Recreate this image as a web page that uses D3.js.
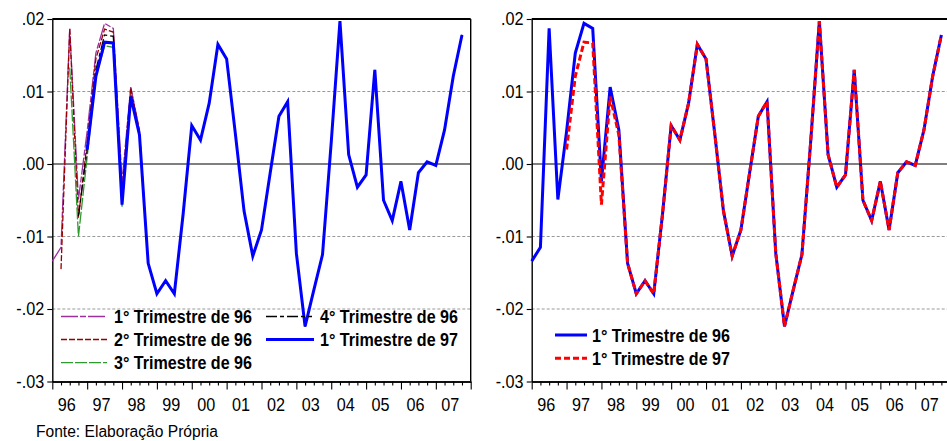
<!DOCTYPE html>
<html>
<head>
<meta charset="utf-8">
<script src="https://cdn.jsdelivr.net/npm/d3@7"></script>
<style>
  body { margin: 0; background: #fff; }
  svg { display: block; }
  text { font-family: "Liberation Sans", Arial, sans-serif; }
</style>
</head>
<body>
<div id="chart"></div>
<script>

/* DATA (quarterly, 1996Q1 .. 2007Q4) */
const years = ["96", "97", "98", "99", "00", "01", "02", "03", "04", "05", "06", "07"];
const yTicks = [0.02, 0.01, 0.00, -0.01, -0.02, -0.03];
const yLabels = [".02", ".01", ".00", "-.01", "-.02", "-.03"];

// first 11 quarters of each estimate (null = not yet estimated)
const tri1_96 = [-0.0134, -0.0115, 0.0187, -0.0049, 0.0045, 0.0153, 0.0194, 0.0187, -0.0024, 0.0106, 0.0047];
const tri2_96 = [null, -0.0145, 0.0186, -0.0074, 0.0030, 0.0145, 0.0186, 0.0182, -0.0040, 0.0105, 0.0045];
const tri3_96 = [null, null, 0.0133, -0.0100, 0.0010, 0.0120, 0.0163, 0.0161, -0.0060, 0.0095, 0.0040];
const tri4_96 = [null, null, null, -0.0072, 0.0020, 0.0130, 0.0178, 0.0176, -0.0050, 0.0095, 0.0042];
const tri1_97 = [null, null, null, null, 0.0020, 0.0121, 0.0168, 0.0167, -0.0056, 0.0093, 0.0040];

// from 1998Q4 on all the estimates lie on top of each other
const comum = [-0.0137, -0.0179, -0.0161, -0.0179, -0.0070, 0.0053, 0.0033, 0.0084, 0.0165, 0.0145,
               0.0042, -0.0065, -0.0127, -0.0091, -0.0012, 0.0066, 0.0086, -0.0123, -0.0224, -0.0174,
               -0.0125, 0.0030, 0.0197, 0.0013, -0.0032, -0.0015, 0.0130, -0.0050, -0.0078, -0.0024,
               -0.0091, -0.0012, 0.0003, -0.0002, 0.0047, 0.0121, 0.0178];

/* SVG */
const width = 947, height = 441;
const svg = d3.select("#chart").append("svg")
    .attr("width", width)
    .attr("height", height);

const plotTop = 19, plotBottom = 381.5, plotW = 418.4;

const yScale = d3.scaleLinear()
    .domain([-0.03, 0.02])
    .range([plotBottom, plotTop]);

const line = d3.line()
    .defined(d => d != null)
    .x(d => d.x)
    .y(d => yScale(d.v));

function drawPanel(x0, series, legend) {

    const xScale = d3.scaleLinear()
        .domain([0, 48])
        .range([x0, x0 + plotW]);

    const g = svg.append("g");

    /* GRID */
    g.selectAll(".grid")
        .data([0.01, -0.01, -0.02])
        .enter()
        .append("line")
            .attr("x1", x0).attr("x2", x0 + plotW)
            .attr("y1", d => yScale(d)).attr("y2", d => yScale(d))
            .attr("stroke", "#999")
            .attr("stroke-width", 1)
            .attr("stroke-dasharray", "3,2");

    g.append("line")
        .attr("x1", x0).attr("x2", x0 + plotW)
        .attr("y1", yScale(0)).attr("y2", yScale(0))
        .attr("stroke", "#000")
        .attr("stroke-width", 1.2);

    /* FRAME */
    g.append("line")
        .attr("x1", x0).attr("x2", x0 + plotW)
        .attr("y1", plotTop).attr("y2", plotTop)
        .attr("stroke", "#000").attr("stroke-width", 2.2);

    g.append("line")
        .attr("x1", x0 + plotW).attr("x2", x0 + plotW)
        .attr("y1", plotTop).attr("y2", plotBottom)
        .attr("stroke", "#000").attr("stroke-width", 1.4);

    /* AXES */
    const yAxis = g.append("g")
        .attr("transform", `translate(${x0},0)`)
        .call(d3.axisLeft(yScale)
            .tickValues(yTicks)
            .tickFormat((d, i) => yLabels[i])
            .tickSize(5)
            .tickSizeOuter(0)
            .tickPadding(4));

    const xMajor = g.append("g")
        .attr("transform", `translate(0,${plotBottom})`)
        .call(d3.axisBottom(xScale)
            .tickValues(d3.range(0, 49, 4))
            .tickSize(8)
            .tickSizeOuter(0)
            .tickFormat(""));

    const xMinor = g.append("g")
        .attr("transform", `translate(0,${plotBottom})`)
        .call(d3.axisBottom(xScale)
            .tickValues(d3.range(0, 49).filter(q => q % 4 != 0))
            .tickSize(4)
            .tickSizeOuter(0)
            .tickFormat(""));

    const xLabels = g.append("g")
        .attr("transform", `translate(0,${plotBottom})`)
        .call(d3.axisBottom(xScale)
            .tickValues(years.map((y, i) => i * 4 + 1.6))
            .tickSize(0)
            .tickPadding(17)
            .tickFormat((d, i) => years[i]));
    xLabels.select(".domain").remove();

    [yAxis, xMajor, xMinor].forEach(a => a.select(".domain").attr("stroke-width", 1.4));
    [yAxis, xMajor, xMinor].forEach(a => a.selectAll(".tick line").attr("stroke-width", 1.1));

    g.selectAll(".tick text")
        .attr("font-size", 18)
        .attr("fill", "#000")
        .attr("transform", "scale(0.9,1)");

    /* LINES */
    series.forEach(s => {
        const pts = s.values.map((v, i) => v == null ? null : {x: xScale(i), v: v});
        g.append("path")
            .datum(pts)
            .attr("d", line)
            .attr("fill", "none")
            .attr("stroke", s.color)
            .attr("stroke-width", s.width)
            .attr("stroke-dasharray", s.dash)
            .attr("stroke-linejoin", "miter");
    });

    /* LEGEND */
    legend.forEach(l => {
        g.append("line")
            .attr("x1", l.x).attr("x2", l.x + l.len)
            .attr("y1", l.y).attr("y2", l.y)
            .attr("stroke", l.s.color)
            .attr("stroke-width", l.s.width)
            .attr("stroke-dasharray", l.s.dash);

        g.append("text")
            .attr("x", l.tx)
            .attr("y", l.y + 6.5)
            .attr("font-size", 18)
            .attr("font-weight", "bold")
            .attr("textLength", 138)
            .attr("lengthAdjust", "spacingAndGlyphs")
            .text(l.s.name);
    });
}

/* LEFT PANEL */
const s1_96 = {name: "1° Trimestre de 96", values: tri1_96.concat(comum), color: "#9a2fa0", width: 1.3, dash: "17,2,6,2"};
const s2_96 = {name: "2° Trimestre de 96", values: tri2_96.concat(comum), color: "#990000", width: 1.3, dash: "6,2"};
const s3_96 = {name: "3° Trimestre de 96", values: tri3_96.concat(comum), color: "#2e9a2e", width: 1.3, dash: "12,2"};
const s4_96 = {name: "4° Trimestre de 96", values: tri4_96.concat(comum), color: "#000000", width: 1.3, dash: "11,3,4,3"};
const s1_97 = {name: "1° Trimestre de 97", values: tri1_97.concat(comum), color: "#0000ff", width: 3, dash: null};

drawPanel(52.3, [s1_96, s2_96, s3_96, s4_96, s1_97], [
    {s: s1_96, x: 61, len: 46, tx: 114, y: 316.5},
    {s: s2_96, x: 61, len: 46, tx: 114, y: 339.5},
    {s: s3_96, x: 61, len: 46, tx: 114, y: 362.7},
    {s: s4_96, x: 266, len: 46, tx: 320, y: 316.5},
    {s: s1_97, x: 266, len: 48, tx: 320, y: 339.5}
]);

/* RIGHT PANEL */
const r1_96 = {name: "1° Trimestre de 96", values: tri1_96.concat(comum), color: "#0000ff", width: 3, dash: null};
const r1_97 = {name: "1° Trimestre de 97", values: tri1_97.concat(comum), color: "#ff0000", width: 3, dash: "6,3"};

drawPanel(531.7, [r1_96, r1_97], [
    {s: r1_96, x: 555, len: 32, tx: 592, y: 335},
    {s: r1_97, x: 555, len: 32, tx: 592, y: 358.3}
]);

/* SOURCE NOTE */
svg.append("text")
    .attr("x", 36)
    .attr("y", 437)
    .attr("font-size", 16)
    .attr("textLength", 182)
    .attr("lengthAdjust", "spacingAndGlyphs")
    .text("Fonte: Elaboração Própria");

</script>
</body>
</html>
